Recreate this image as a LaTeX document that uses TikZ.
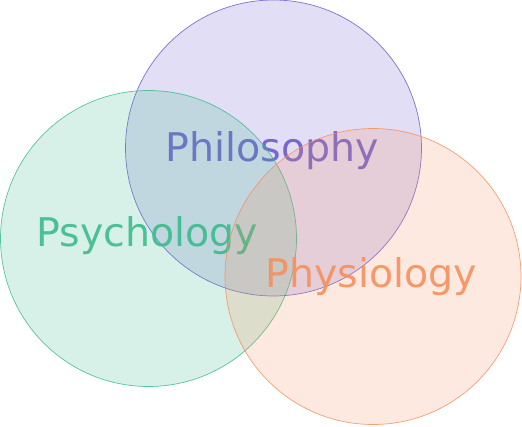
\documentclass[tikz,border=0pt]{standalone}
\usepackage{fontspec}
\setmainfont{DejaVu Sans}
\definecolor{cpur}{HTML}{6A5ACD}
\definecolor{cgrn}{HTML}{3CBA8C}
\definecolor{corg}{HTML}{F4905E}
\tikzset{
  setcirc/.style={draw=#1, fill=#1, fill opacity=0.2, draw opacity=0.85, line width=0.7pt},
  setlabel/.style={text=#1, text opacity=0.9, anchor=base, inner sep=0pt, font=\fontsize{39.5}{39.5}\selectfont}
}
\begin{document}
\begin{tikzpicture}[x=1pt,y=-1pt]
\useasboundingbox (0,0) rectangle (522,426);
\node[setcirc=cpur, circle, minimum size=296pt, inner sep=0pt] (phil) at (273.5,148) {};
\node[setlabel=cpur] (philt) at (272.5,161.5) {Philosophy};
\node[setcirc=cgrn, circle, minimum size=296pt, inner sep=0pt] (psyc) at (148.5,238.5) {};
\node[setlabel=cgrn] (psyct) at (147.5,246.5) {Psychology};
\node[setcirc=corg, circle, minimum size=296pt, inner sep=0pt] (phys) at (373,276.5) {};
\node[setlabel=corg] (physt) at (371.5,287.5) {Physiology};
\end{tikzpicture}
\end{document}
